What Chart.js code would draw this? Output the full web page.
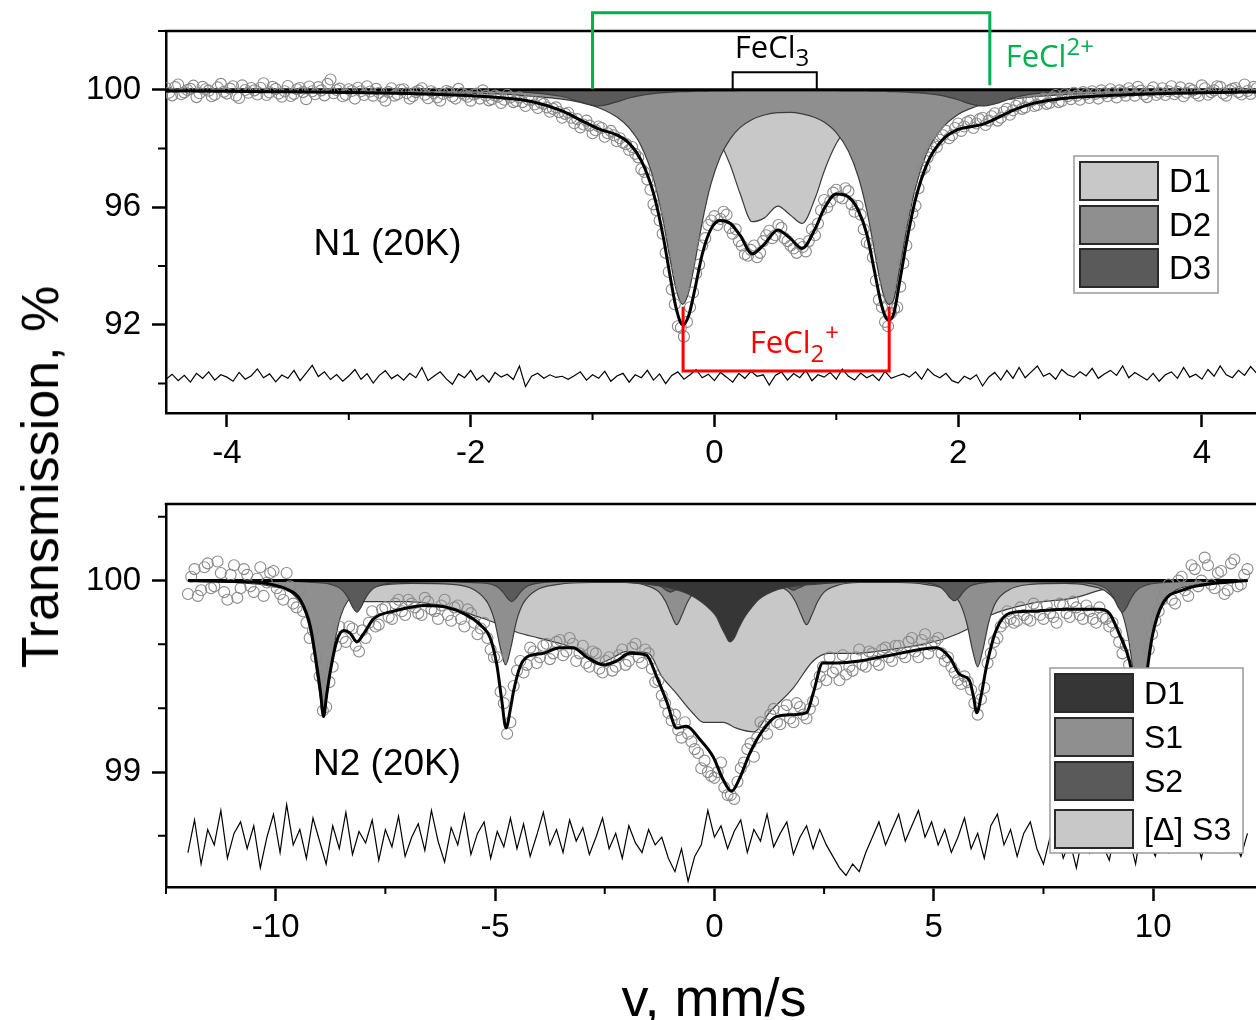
<!DOCTYPE html>
<html>
<head>
<meta charset="utf-8">
<script src="https://cdn.jsdelivr.net/npm/chart.js@4.4.1/dist/chart.umd.min.js"></script>
<style>
  html, body { margin: 0; padding: 0; background: #fff; overflow: hidden; }
  body { position: relative; width: 1256px; height: 1020px; }
  canvas { position: absolute; left: 0; }
  #top { top: 0; }
  #bottom { top: 470px; }
  .title { position: absolute; font-family: 'Liberation Sans', Arial, sans-serif; color: #000; white-space: nowrap; }
  #yTitle { left: 40px; top: 477px; font-size: 52px; transform: translate(-50%, -50%) rotate(-90deg); }
  #xTitle { left: 714px; top: 997px; font-size: 54px; transform: translate(-50%, -50%); }
</style>
</head>
<body>
<canvas id="top" width="1300" height="470"></canvas>
<canvas id="bottom" width="1300" height="480"></canvas>
<div class="title" id="yTitle">Transmission, %</div>
<div class="title" id="xTitle">v, mm/s</div>
<script>
// ---- N1 (20K) spectrum ----
const topVel = [-4.5, -4, -3.5, -3, -2.5, -2, -1.75, -1.5, -1.25, -1.1,
  -0.95, -0.8, -0.7, -0.6, -0.5, -0.42, -0.36, -0.31, -0.26, -0.21,
  -0.16, -0.1, -0.03, 0.05, 0.13, 0.21, 0.31, 0.41, 0.52, 0.62,
  0.72, 0.83, 0.9, 1.0, 1.1, 1.18, 1.25, 1.31, 1.36, 1.4,
  1.43, 1.47, 1.52, 1.58, 1.65, 1.75, 1.87, 2.0, 2.1, 2.2,
  2.3, 2.45, 2.6, 2.8, 3.0, 3.5, 4.0, 4.6];
const topD1 = [99.99, 99.98, 99.98, 99.97, 99.96, 99.94, 99.93, 99.91, 99.88, 99.86,
  99.83, 99.79, 99.75, 99.70, 99.64, 99.57, 99.51, 99.44, 99.36, 99.26,
  99.15, 98.96, 98.67, 98.17, 97.44, 96.48, 95.51, 95.64, 96.04, 95.75,
  95.45, 96.35, 97.22, 98.17, 98.76, 99.06, 99.24, 99.36, 99.44, 99.49,
  99.53, 99.57, 99.61, 99.66, 99.70, 99.75, 99.79, 99.83, 99.85, 99.87,
  99.88, 99.90, 99.92, 99.93, 99.94, 99.96, 99.97, 99.98];
const topD2 = [99.98, 99.97, 99.96, 99.95, 99.92, 99.88, 99.85, 99.78, 99.68, 99.57,
  99.39, 99.07, 98.70, 98.08, 96.97, 95.53, 94.15, 93.13, 92.70, 93.12,
  94.13, 95.49, 96.77, 97.74, 98.33, 98.71, 98.99, 99.14, 99.22, 99.23,
  99.18, 99.05, 98.90, 98.54, 97.91, 97.05, 95.90, 94.59, 93.48, 92.86,
  92.70, 92.84, 93.92, 95.31, 96.66, 97.91, 98.70, 99.16, 99.36, 99.50,
  99.60, 99.69, 99.76, 99.82, 99.86, 99.91, 99.94, 99.96];
const topD3 = [100.00, 99.99, 99.99, 99.99, 99.98, 99.97, 99.95, 99.90, 99.77, 99.59,
  99.45, 99.59, 99.72, 99.81, 99.87, 99.90, 99.92, 99.93, 99.94, 99.94,
  99.95, 99.95, 99.96, 99.96, 99.96, 99.97, 99.97, 99.97, 99.97, 99.97,
  99.97, 99.97, 99.97, 99.97, 99.96, 99.96, 99.96, 99.95, 99.95, 99.95,
  99.94, 99.94, 99.93, 99.92, 99.90, 99.87, 99.80, 99.66, 99.52, 99.45,
  99.52, 99.72, 99.85, 99.92, 99.95, 99.98, 99.99, 99.99];
const topFit = [99.96, 99.95, 99.93, 99.91, 99.87, 99.80, 99.73, 99.60, 99.28, 98.97,
  98.67, 98.46, 98.18, 97.59, 96.48, 95.00, 93.57, 92.50, 92.00, 92.33,
  93.22, 94.40, 95.25, 95.55, 95.45, 95.05, 94.42, 94.75, 95.23, 94.95,
  94.60, 95.30, 95.95, 96.45, 96.35, 95.90, 95.10, 93.90, 92.87, 92.30,
  92.17, 92.35, 93.47, 94.89, 96.27, 97.53, 98.29, 98.65, 98.74, 98.82,
  99.00, 99.30, 99.52, 99.67, 99.75, 99.85, 99.90, 99.93];

// measured channels: first velocity and spacing
const topStart = -4.5, topStep = 0.025;
const topCounts = [
  100.06, 99.90, 99.81, 100.09, 100.18, 99.85, 99.91, 99.99, 100.03, 100.14, 99.75, 99.88, 100.10, 100.02, 99.97, 99.78, 99.83, 100.08, 100.20, 99.93,
  99.87, 100.04, 100.12, 99.80, 99.72, 100.15, 99.99, 99.90, 100.06, 99.98, 99.84, 100.07, 100.22, 99.82, 99.91, 100.10, 100.03, 99.87, 99.76, 99.95,
  100.13, 99.79, 99.86, 100.02, 100.06, 99.92, 99.68, 100.11, 99.95, 99.85, 100.09, 99.98, 99.81, 100.20, 100.35, 99.88, 99.99, 100.04, 99.78, 99.83,
  100.02, 99.96, 99.70, 100.07, 99.95, 99.82, 100.12, 99.94, 99.80, 100.03, 99.90, 99.76, 99.63, 99.92, 100.05, 99.80, 99.85, 100.00, 100.02, 99.88,
  99.70, 99.78, 99.92, 99.97, 100.05, 99.83, 99.71, 99.95, 99.88, 99.74, 99.63, 99.86, 99.96, 99.92, 99.77, 99.70, 100.03, 99.88, 99.82, 99.76,
  99.63, 99.84, 99.87, 99.70, 99.98, 99.80, 99.64, 99.68, 99.80, 99.76, 99.55, 99.66, 99.83, 99.74, 99.58, 99.62, 99.74, 99.58, 99.45, 99.66,
  99.66, 99.50, 99.38, 99.56, 99.52, 99.40, 99.25, 99.35, 99.40, 99.24, 99.05, 99.18, 99.22, 99.05, 98.86, 99.00, 98.72, 98.82, 98.95, 98.78,
  98.52, 98.62, 98.75, 98.70, 98.40, 98.52, 98.60, 98.45, 98.25, 98.35, 98.20, 98.15, 97.95, 98.05, 97.82, 97.70, 97.30, 97.20, 96.95, 96.60,
  96.10, 95.90, 95.55, 95.10, 94.45, 93.80, 93.20, 92.70, 91.95, 91.90, 91.60, 92.10, 92.60, 93.10, 93.75, 94.05, 94.70, 94.95, 95.40, 95.55,
  95.70, 95.40, 95.60, 95.85, 95.75, 95.30, 95.10, 95.25, 94.85, 94.70, 94.40, 94.35, 94.55, 94.70, 94.30, 94.45, 94.85, 95.05, 95.20, 94.95,
  95.05, 95.40, 95.30, 94.95, 94.85, 94.70, 94.60, 94.45, 94.75, 94.65, 94.50, 94.85, 95.25, 95.05, 95.45, 95.90, 96.25, 96.00, 96.20, 96.50,
  96.60, 96.35, 96.30, 96.65, 96.55, 96.10, 95.85, 96.05, 95.75, 95.25, 94.80, 94.75, 94.30, 93.50, 92.85, 92.60, 92.10, 91.95, 92.40, 92.55,
  92.60, 93.30, 94.10, 94.70, 95.40, 95.80, 96.05, 96.65, 97.25, 97.35, 97.70, 97.90, 98.15, 98.05, 98.30, 98.45, 98.60, 98.35, 98.45, 98.70,
  98.85, 98.60, 98.75, 98.90, 98.95, 98.70, 98.85, 99.00, 99.05, 98.80, 98.95, 99.10, 99.20, 98.95, 99.05, 99.25, 99.35, 99.15, 99.30, 99.45,
  99.55, 99.35, 99.40, 99.60, 99.62, 99.45, 99.48, 99.65, 99.70, 99.52, 99.55, 99.74, 99.82, 99.58, 99.62, 99.85, 99.78, 99.68, 99.90, 99.80,
  99.66, 99.92, 99.85, 99.72, 99.95, 99.86, 99.70, 99.98, 99.88, 99.78, 100.02, 99.90, 99.74, 99.98, 99.92, 99.80, 100.05, 99.95, 99.80, 100.10,
  99.97, 99.84, 99.75, 99.96, 100.08, 99.82, 99.90, 100.05, 99.82, 99.95, 100.12, 99.85, 99.93, 100.08, 99.78, 99.90, 100.04, 99.98, 99.88, 99.80,
  100.15, 100.05, 99.83, 99.92, 99.98, 100.12, 100.10, 99.87, 99.80, 99.98, 100.03, 100.06, 99.92, 99.84, 100.18, 99.96, 99.86, 100.10, 100.05, 99.90];
// residual, plotted below the spectrum
const resStartTop = -4.5, resStepTop = 0.05;
const topResidual = [
  90.15, 90.32, 90.10, 90.28, 90.05, 90.35, 90.18, 90.40, 90.12, 90.30,
  90.22, 90.08, 90.38, 90.15, 90.27, 90.50, 90.20, 90.33, 90.06, 90.29,
  90.18, 90.45, 90.10, 90.36, 90.62, 90.24, 90.40, 90.14, 90.31, 90.08,
  90.26, 90.48, 90.15, 90.34, 90.02, 90.28, 90.44, 90.17, 90.30, 90.12,
  90.35, 90.20, 90.55, 90.10, 90.26, 90.40, 90.16, 89.98, 90.33, 90.20,
  90.45, 90.12, 90.28, 90.05, 90.38, 90.22, 90.32, 90.14, 90.60, 89.90,
  90.25, 90.35, 90.18, 90.30, 90.21, 90.25, 90.15, 90.27, 90.40, 90.12,
  90.30, 90.18, 90.42, 90.08, 90.26, 90.35, 90.05, 90.30, 90.20, 90.45,
  90.12, 90.33, 90.00, 90.28, 90.40, 90.15, 90.30, 90.48, 90.20, 90.32,
  90.10, 90.38, 90.22, 90.05, 90.35, 90.18, 90.42, 90.25, 90.30, 89.95,
  90.28, 90.40, 90.12, 90.34, 90.20, 90.45, 90.10, 90.30, 90.22, 90.38,
  90.15, 90.50, 90.25, 90.12, 90.36, 90.20, 90.30, 90.10, 90.42, 90.18,
  90.26, 90.33, 90.22, 90.40, 90.15, 90.50, 90.30, 90.20, 90.35, 90.10,
  90.02, 90.25, 90.15, 90.30, 89.92, 90.22, 90.38, 90.12, 90.45, 90.18,
  90.55, 90.20, 90.40, 90.60, 90.25, 90.35, 90.15, 90.48, 90.30, 90.22,
  90.40, 90.26, 90.52, 90.18, 90.33, 90.45, 90.28, 90.60, 90.20, 90.38,
  90.25, 90.12, 90.35, 90.08, 90.30, 90.40, 90.18, 90.55, 90.22, 90.32,
  90.15, 90.48, 90.25, 90.60, 90.30, 90.20, 90.45, 90.28, 90.58, 90.35];

// ---- N2 (20K) spectrum ----
const botFitVel = [-12.0, -11.0, -10.35, -10.0, -9.74, -9.44, -9.21, -9.06, -8.98, -8.91,
  -8.84, -8.76, -8.60, -8.45, -8.30, -8.15, -8.0, -7.77, -7.32, -6.56,
  -6.10, -5.64, -5.34, -5.11, -4.96, -4.85, -4.75, -4.65, -4.58, -4.43,
  -4.28, -3.90, -3.52, -3.22, -2.91, -2.53, -2.23, -1.93, -1.55, -1.32,
  -1.09, -0.86, -0.64, -0.33, -0.03, 0.20, 0.39, 0.58, 0.81, 1.11,
  1.41, 1.79, 2.10, 2.25, 2.47, 2.78, 3.31, 3.76, 4.22, 4.68,
  5.06, 5.36, 5.59, 5.81, 5.90, 5.98, 6.08, 6.20, 6.42, 6.73,
  7.25, 8.02, 8.77, 9.00, 9.23, 9.46, 9.58, 9.70, 9.80, 9.87,
  9.99, 10.22, 10.67, 11.2, 12.15];
const botFit = [100.0, 99.995, 99.99, 99.975, 99.955, 99.90, 99.76, 99.55, 99.42, 99.29,
  99.40, 99.52, 99.69, 99.74, 99.725, 99.68, 99.72, 99.80, 99.84, 99.87,
  99.86, 99.82, 99.77, 99.70, 99.56, 99.38, 99.23, 99.33, 99.42, 99.55,
  99.60, 99.62, 99.65, 99.65, 99.60, 99.56, 99.58, 99.62, 99.61, 99.50,
  99.37, 99.23, 99.24, 99.17, 99.08, 98.96, 98.90, 98.97, 99.10, 99.22,
  99.29, 99.30, 99.31, 99.41, 99.57, 99.57, 99.58, 99.60, 99.62, 99.64,
  99.65, 99.60, 99.51, 99.48, 99.40, 99.31, 99.40, 99.55, 99.74, 99.83,
  99.84, 99.85, 99.85, 99.83, 99.72, 99.58, 99.42, 99.26, 99.40, 99.54,
  99.72, 99.88, 99.95, 99.98, 100.0];

const botS1Vel = [-12, -10.9, -10.11, -9.61, -9.31, -9.16, -9.03, -8.91, -8.79, -8.66,
  -8.51, -8.21, -7.71, -6.9, -5.96, -5.46, -5.16, -5.01, -4.88, -4.76,
  -4.64, -4.51, -4.36, -4.06, -3.56, -2.8, -2.06, -1.56, -1.26, -1.11,
  -0.98, -0.86, -0.74, -0.61, -0.46, -0.16, 0.62, 1.4, 1.7, 1.85,
  1.98, 2.10, 2.22, 2.35, 2.5, 2.8, 3.3, 4.2, 4.8, 5.3,
  5.6, 5.75, 5.88, 6.0, 6.12, 6.25, 6.4, 6.7, 7.2, 8.0,
  8.5, 9.0, 9.3, 9.45, 9.58, 9.70, 9.82, 9.95, 10.1, 10.4,
  10.9, 11.7, 12.15];
const botS1 = [100, 99.99, 99.97, 99.93, 99.82, 99.67, 99.46, 99.32, 99.46, 99.67,
  99.82, 99.93, 99.97, 99.985, 99.98, 99.95, 99.88, 99.79, 99.65, 99.56,
  99.65, 99.79, 99.88, 99.95, 99.98, 99.99, 99.99, 99.975, 99.94, 99.89,
  99.82, 99.77, 99.82, 99.89, 99.94, 99.975, 99.99, 99.975, 99.94, 99.89,
  99.82, 99.77, 99.82, 99.89, 99.94, 99.975, 99.99, 99.99, 99.98, 99.95,
  99.88, 99.78, 99.64, 99.55, 99.64, 99.78, 99.88, 99.95, 99.98, 99.985,
  99.975, 99.93, 99.825, 99.68, 99.47, 99.34, 99.47, 99.68, 99.825, 99.93,
  99.975, 99.99, 100];

const botS2Vel = [-12, -10.15, -9.15, -8.75, -8.5, -8.35, -8.25, -8.15, -8.05, -7.95,
  -7.8, -7.55, -7.15, -6.0, -5.62, -5.22, -4.97, -4.82, -4.72, -4.62,
  -4.52, -4.42, -4.27, -4.02, -3.62, -2.0, -1.6, -1.35, -1.2, -1.1,
  -1.0, -0.9, -0.8, -0.65, -0.4, 0.4, 1.2, 1.45, 1.6, 1.7,
  1.8, 1.9, 2.0, 2.15, 2.4, 3.0, 4.47, 4.87, 5.12, 5.27,
  5.37, 5.47, 5.57, 5.67, 5.82, 6.07, 6.47, 8.3, 8.7, 8.95,
  9.1, 9.2, 9.3, 9.4, 9.5, 9.65, 9.9, 10.3, 12.15];
const botS2 = [100, 100, 99.99, 99.98, 99.954, 99.91, 99.863, 99.835, 99.863, 99.91,
  99.954, 99.98, 99.99, 99.995, 99.99, 99.987, 99.97, 99.94, 99.909, 99.89,
  99.909, 99.94, 99.97, 99.987, 99.995, 99.997, 99.993, 99.983, 99.967, 99.95,
  99.94, 99.95, 99.967, 99.983, 99.993, 99.995, 99.994, 99.986, 99.97, 99.96,
  99.95, 99.96, 99.97, 99.986, 99.994, 99.998, 99.995, 99.987, 99.97, 99.94,
  99.91, 99.895, 99.91, 99.94, 99.97, 99.987, 99.995, 99.99, 99.98, 99.954,
  99.91, 99.863, 99.835, 99.863, 99.91, 99.954, 99.98, 99.99, 100];

const botS3Vel = [-12, -10, -9.5, -9, -8.5, -8, -7.5, -7, -6.5, -6,
  -5.5, -5, -4.5, -4, -3.5, -3, -2.6, -2.3, -2.0, -1.5,
  -1.2, -0.9, -0.5, -0.25, 0.2, 0.5, 0.9, 1.25, 1.8, 2.25,
  2.6, 3.2, 4.0, 4.8, 5.3, 5.8, 6.3, 7.2, 8.2, 8.8,
  9.2, 9.6, 10, 12.15];
const botS3 = [100, 100, 99.99, 99.96, 99.92, 99.89, 99.89, 99.89, 99.88, 99.86,
  99.82, 99.78, 99.73, 99.70, 99.67, 99.63, 99.57, 99.60, 99.63, 99.62,
  99.50, 99.42, 99.31, 99.26, 99.26, 99.23, 99.21, 99.31, 99.44, 99.58,
  99.62, 99.62, 99.64, 99.67, 99.70, 99.75, 99.82, 99.88, 99.91, 99.95,
  99.97, 99.99, 100, 100];

const botD1Vel = [-12, -3, -2, -1.5, -1.0, -0.6, -0.3, -0.1, 0.05, 0.15,
  0.24, 0.35, 0.45, 0.55, 0.69, 0.85, 1.03, 1.4, 1.8, 2.5, 3.5, 12.15];
const botD1 = [100, 99.995, 99.99, 99.98, 99.96, 99.93, 99.89, 99.85, 99.81, 99.76,
  99.72, 99.68, 99.70, 99.75, 99.81, 99.86, 99.905, 99.95, 99.97, 99.985, 99.993, 100];

const botStart = -12, botStep = 0.075;
const botCounts = [
  99.93, 100.02, 100.06, 99.92, 99.95, 100.07, 100.09, 99.96, 99.97, 100.10, 100.04, 99.94, 99.90, 100.03, 100.08, 99.91, 99.96, 100.06, 100.03, 99.97,
  99.94, 100.01, 100.07, 99.92, 99.99, 100.04, 100.05, 99.96, 99.93, 99.90, 100.04, 99.97, 99.88, 99.86, 99.95, 99.84, 99.78, 99.70, 99.74, 99.60,
  99.50, 99.32, 99.34, 99.47, 99.55, 99.66, 99.76, 99.70, 99.68, 99.76, 99.75, 99.66, 99.63, 99.74, 99.70, 99.78, 99.84, 99.76, 99.77, 99.85,
  99.86, 99.81, 99.80, 99.88, 99.90, 99.84, 99.82, 99.90, 99.88, 99.86, 99.83, 99.82, 99.91, 99.89, 99.85, 99.84, 99.80, 99.87, 99.90, 99.82,
  99.79, 99.86, 99.87, 99.80, 99.76, 99.85, 99.83, 99.78, 99.72, 99.75, 99.78, 99.70, 99.64, 99.60, 99.60, 99.42, 99.36, 99.20, 99.26, 99.45,
  99.53, 99.58, 99.52, 99.56, 99.65, 99.63, 99.57, 99.60, 99.66, 99.67, 99.59, 99.62, 99.68, 99.69, 99.61, 99.63, 99.70, 99.67, 99.58, 99.62,
  99.66, 99.57, 99.55, 99.63, 99.62, 99.54, 99.52, 99.58, 99.60, 99.53, 99.55, 99.61, 99.64, 99.56, 99.58, 99.65, 99.67, 99.60, 99.57, 99.64,
  99.62, 99.54, 99.47, 99.48, 99.40, 99.36, 99.31, 99.27, 99.30, 99.22, 99.18, 99.26, 99.20, 99.16, 99.12, 99.10, 99.02, 99.06, 99.00, 98.98,
  98.97, 99.00, 99.05, 98.92, 98.88, 98.88, 98.86, 98.95, 99.02, 99.05, 99.12, 99.15, 99.08, 99.18, 99.26, 99.24, 99.20, 99.30, 99.33, 99.26,
  99.25, 99.32, 99.35, 99.28, 99.26, 99.36, 99.34, 99.30, 99.28, 99.33, 99.37, 99.46, 99.50, 99.55, 99.48, 99.60, 99.52, 99.54, 99.48, 99.61,
  99.51, 99.55, 99.53, 99.60, 99.64, 99.56, 99.55, 99.63, 99.62, 99.58, 99.56, 99.64, 99.65, 99.60, 99.58, 99.66, 99.66, 99.62, 99.60, 99.68,
  99.70, 99.63, 99.60, 99.69, 99.72, 99.62, 99.66, 99.68, 99.70, 99.62, 99.58, 99.60, 99.55, 99.52, 99.48, 99.46, 99.50, 99.47, 99.43, 99.36,
  99.30, 99.38, 99.44, 99.57, 99.62, 99.68, 99.70, 99.76, 99.78, 99.84, 99.80, 99.78, 99.79, 99.86, 99.82, 99.80, 99.79, 99.88, 99.86, 99.82,
  99.80, 99.87, 99.83, 99.81, 99.78, 99.88, 99.87, 99.83, 99.81, 99.89, 99.86, 99.82, 99.80, 99.87, 99.84, 99.80, 99.78, 99.86, 99.81, 99.80,
  99.76, 99.78, 99.73, 99.68, 99.62, 99.66, 99.56, 99.50, 99.45, 99.26, 99.30, 99.45, 99.64, 99.72, 99.79, 99.84, 99.90, 99.94, 99.98, 99.90,
  99.88, 100.00, 100.02, 99.95, 99.92, 100.08, 100.06, 99.97, 100.00, 100.12, 100.08, 99.98, 99.96, 100.04, 100.05, 99.93, 99.95, 100.09, 100.11, 99.97,
  99.98, 100.03, 100.06];
const resStartBot = -12, resStepBot = 0.15;
const botResidual = [
  98.58, 98.75, 98.52, 98.70, 98.62, 98.80, 98.55, 98.68, 98.74, 98.60,
  98.72, 98.50, 98.66, 98.78, 98.58, 98.83, 98.62, 98.70, 98.55, 98.76,
  98.64, 98.52, 98.72, 98.60, 98.79, 98.57, 98.69, 98.63, 98.75, 98.54,
  98.70, 98.61, 98.77, 98.56, 98.66, 98.73, 98.59, 98.80, 98.64, 98.53,
  98.71, 98.62, 98.78, 98.57, 98.68, 98.74, 98.55, 98.69, 98.61, 98.76,
  98.60, 98.73, 98.56, 98.67, 98.79, 98.62, 98.70, 98.58, 98.75, 98.64,
  98.71, 98.57, 98.66, 98.76, 98.60, 98.68, 98.55, 98.72, 98.63, 98.58,
  98.70, 98.62, 98.66, 98.55, 98.48, 98.60, 98.43, 98.56, 98.62, 98.80,
  98.66, 98.72, 98.60, 98.69, 98.75, 98.58, 98.70, 98.64, 98.78, 98.61,
  98.68, 98.74, 98.57, 98.66, 98.72, 98.60, 98.70, 98.62, 98.56, 98.50,
  98.46, 98.52, 98.48, 98.58, 98.66, 98.74, 98.62, 98.70, 98.78, 98.64,
  98.72, 98.80, 98.66, 98.74, 98.62, 98.70, 98.58, 98.66, 98.76, 98.60,
  98.68, 98.55, 98.72, 98.78, 98.62, 98.70, 98.56, 98.68, 98.74, 98.60,
  98.52, 98.66, 98.70, 98.55, 98.64, 98.50, 98.68, 98.58, 98.72, 98.62,
  98.54, 98.70, 98.60, 98.66, 98.52, 98.74, 98.63, 98.56, 98.70, 98.58,
  98.66, 98.75, 98.60, 98.68, 98.55, 98.72, 98.62, 98.58, 98.70, 98.64,
  98.56, 98.68];

// ---- helpers ----
const ARIAL = "'Liberation Sans', Arial, sans-serif";
const CHEM = "'Open Sans', 'Noto Sans', sans-serif";
const LIGHT = '#c8c8c8', MID = '#8f8f8f', DARK = '#5a5a5a', DARKEST = '#363636';

const pts = (xs, ys) => xs.map((x, i) => ({ x, y: ys[i] }));
const channels = (start, step, ys) => ys.map((y, i) => ({ x: +(start + i * step).toFixed(4), y }));

function component(label, xs, ys, color, order) {
  return {
    label, data: pts(xs, ys), order,
    borderColor: '#3c3c3c', borderWidth: 1.2, backgroundColor: color,
    fill: { value: 100 }, pointRadius: 0, cubicInterpolationMode: 'monotone'
  };
}
function fitLine(xs, ys) {
  return { label: 'fit', data: pts(xs, ys), order: 0, borderColor: '#000', borderWidth: 3,
    pointRadius: 0, fill: false, cubicInterpolationMode: 'monotone' };
}
function residual(start, step, ys) {
  return { label: 'residual', data: channels(start, step, ys), order: 1, borderColor: '#000',
    borderWidth: 1.2, pointRadius: 0, fill: false, tension: 0 };
}
function counts(start, step, ys) {
  return { label: 'data', data: channels(start, step, ys), order: 2, showLine: false,
    pointRadius: 5.5, pointBorderColor: '#8a8a8a', pointBackgroundColor: 'rgba(0,0,0,0)',
    pointBorderWidth: 1.1 };
}
function baseline(x0, x1) {
  return { label: 'base', data: [{ x: x0, y: 100 }, { x: x1, y: 100 }], order: 3,
    borderColor: '#000', borderWidth: 3, pointRadius: 0, fill: false };
}

function xAxis(min, max, majors, height) {
  return {
    type: 'linear', min, max,
    afterBuildTicks: s => { s.ticks = majors.map(v => ({ value: v })); },
    afterFit: s => { s.height = height; },
    grid: { drawOnChartArea: false, tickLength: 14, tickWidth: 2.5, tickColor: '#000' },
    border: { color: '#000', width: 2.5 },
    ticks: { color: '#000', font: { family: ARIAL, size: 33 }, padding: 7,
      maxRotation: 0, autoSkip: false, callback: v => String(v) }
  };
}
function yAxis(min, max, majors, width) {
  return {
    type: 'linear', min, max,
    afterBuildTicks: s => { s.ticks = majors.map(v => ({ value: v })); },
    afterFit: s => { s.width = width; },
    grid: { drawOnChartArea: false, tickLength: 14, tickWidth: 2.5, tickColor: '#000' },
    border: { color: '#000', width: 2.5 },
    ticks: { color: '#000', font: { family: ARIAL, size: 33 }, padding: 11,
      autoSkip: false, callback: v => String(v) }
  };
}

// frame, minor ticks, markers and legend for each panel
const decor = {
  top: {
    minorX: [-3, -1, 1, 3], minorY: [90, 94, 98, 102],
    brackets: [
      { pts: [[-1.0, 100.03], [-1.0, 102.62], [2.26, 102.62], [2.26, 100.15]], color: '#00b050', width: 3 },
      { pts: [[0.15, 100.0], [0.15, 100.6], [0.84, 100.6], [0.84, 100.0]], color: '#000', width: 2 },
      { pts: [[-0.257, 92.62], [-0.257, 90.43], [1.434, 90.43], [1.434, 92.62]], color: '#ff0000', width: 3 }
    ],
    labels: [
      { x: 2.39, y: 100.78, color: '#00b050', font: CHEM, parts: [['FeCl', 31, 0], ['2+', 24, -12]] },
      { x: 0.167, y: 101.08, color: '#000', font: CHEM, parts: [['FeCl', 31, 0], ['3', 24, 8]] },
      { x: 0.29, y: 91.04, color: '#ff0000', font: CHEM, parts: [['FeCl', 31, 0], ['2', 24, 9], ['+', 24, -12]] },
      { x: -3.29, y: 94.38, color: '#000', font: ARIAL, parts: [['N1 (20K)', 37, 0]] }
    ],
    legend: { box: [1074, 156, 144, 137], sw: [1080, 78, 38], textX: 1169, size: 33,
      rows: [['D1', 162], ['D2', 206], ['D3', 249]] }
  },
  bottom: {
    minorX: [-12.5, -7.5, -2.5, 2.5, 7.5, 12.5], minorY: [98.667, 99.333, 99.667, 100.333],
    brackets: [],
    labels: [
      { x: -9.15, y: 98.985, color: '#000', font: ARIAL, parts: [['N2 (20K)', 37, 0]] }
    ],
    legend: { box: [1050, 198, 193, 185], sw: [1055, 78, 38], textX: 1144, size: 32,
      rows: [['D1', 204], ['S1', 248], ['S2', 292], ['[\u0394] S3', 340]] }
  }
};

const panelDecor = {
  id: 'panelDecor',
  afterDraw(chart) {
    const cfg = decor[chart.canvas.id];
    const { ctx, chartArea: a } = chart;
    const xs = chart.scales.x, ys = chart.scales.y;
    ctx.save();
    ctx.strokeStyle = '#000';
    ctx.lineWidth = 2.5;
    ctx.beginPath();
    ctx.moveTo(a.left - 1.25, a.top);
    ctx.lineTo(a.right + 2, a.top);
    ctx.stroke();

    ctx.lineWidth = 2;
    ctx.beginPath();
    cfg.minorX.forEach(v => {
      const px = xs.getPixelForValue(v);
      ctx.moveTo(px, a.bottom);
      ctx.lineTo(px, a.bottom + 7);
    });
    cfg.minorY.forEach(v => {
      const py = ys.getPixelForValue(v);
      ctx.moveTo(a.left, py);
      ctx.lineTo(a.left - 8, py);
    });
    ctx.stroke();

    cfg.brackets.forEach(b => {
      ctx.strokeStyle = b.color;
      ctx.lineWidth = b.width;
      ctx.lineJoin = 'miter';
      ctx.beginPath();
      b.pts.forEach(([vx, vy], i) => {
        const px = xs.getPixelForValue(vx), py = ys.getPixelForValue(vy);
        if (i === 0) ctx.moveTo(px, py); else ctx.lineTo(px, py);
      });
      ctx.stroke();
    });

    ctx.textBaseline = 'alphabetic';
    ctx.textAlign = 'left';
    cfg.labels.forEach(l => {
      let px = xs.getPixelForValue(l.x);
      const py = ys.getPixelForValue(l.y);
      ctx.fillStyle = l.color;
      l.parts.forEach(([t, size, dy]) => {
        ctx.font = size + 'px ' + l.font;
        ctx.fillText(t, px, py + dy);
        px += ctx.measureText(t).width + (dy ? 1 : 0);
      });
    });

    const lg = cfg.legend;
    const [bx, by, bw, bh] = lg.box;
    ctx.fillStyle = '#fff';
    ctx.fillRect(bx, by, bw, bh);
    ctx.strokeStyle = '#9a9a9a';
    ctx.lineWidth = 1.5;
    ctx.strokeRect(bx, by, bw, bh);
    ctx.font = lg.size + 'px ' + ARIAL;
    ctx.textBaseline = 'middle';
    lg.rows.forEach(([name, top]) => {
      const ds = chart.data.datasets.find(d => d.label === name);
      ctx.fillStyle = ds.backgroundColor;
      ctx.fillRect(lg.sw[0], top, lg.sw[1], lg.sw[2]);
      ctx.strokeStyle = '#2a2a2a';
      ctx.lineWidth = 2;
      ctx.strokeRect(lg.sw[0], top, lg.sw[1], lg.sw[2]);
      ctx.fillStyle = '#000';
      ctx.fillText(name, lg.textX, top + lg.sw[2] / 2 + 2);
    });
    ctx.restore();
  }
};

const common = {
  responsive: false, animation: false, devicePixelRatio: 1,
  plugins: { legend: { display: false }, tooltip: { enabled: false } }
};

new Chart(document.getElementById('top'), {
  type: 'line',
  data: {
    datasets: [
      fitLine(topVel, topFit),
      residual(resStartTop, resStepTop, topResidual),
      counts(topStart, topStep, topCounts),
      baseline(-4.5, 4.6),
      component('D3', topVel, topD3, DARK, 4),
      component('D2', topVel, topD2, MID, 5),
      component('D1', topVel, topD1, LIGHT, 6)
    ]
  },
  options: {
    ...common,
    layout: { padding: { left: 0, top: 31, right: 25, bottom: 0 } },
    scales: {
      x: xAxis(-4.5, 4.6, [-4, -2, 0, 2, 4], 57),
      y: yAxis(89, 102, [92, 96, 100], 166)
    }
  },
  plugins: [panelDecor]
});

new Chart(document.getElementById('bottom'), {
  type: 'line',
  data: {
    datasets: [
      fitLine(botFitVel, botFit),
      residual(resStartBot, resStepBot, botResidual),
      counts(botStart, botStep, botCounts),
      baseline(-12, 12.15),
      component('D1', botD1Vel, botD1, DARKEST, 4),
      component('S2', botS2Vel, botS2, DARK, 5),
      component('S1', botS1Vel, botS1, MID, 6),
      component('[\u0394] S3', botS3Vel, botS3, LIGHT, 7)
    ]
  },
  options: {
    ...common,
    layout: { padding: { left: 0, top: 34, right: 24, bottom: 0 } },
    scales: {
      x: xAxis(-12.5, 12.8, [-10, -5, 0, 5, 10], 63),
      y: yAxis(98.4, 100.4, [99, 100], 166)
    }
  },
  plugins: [panelDecor]
});
</script>
</body>
</html>
